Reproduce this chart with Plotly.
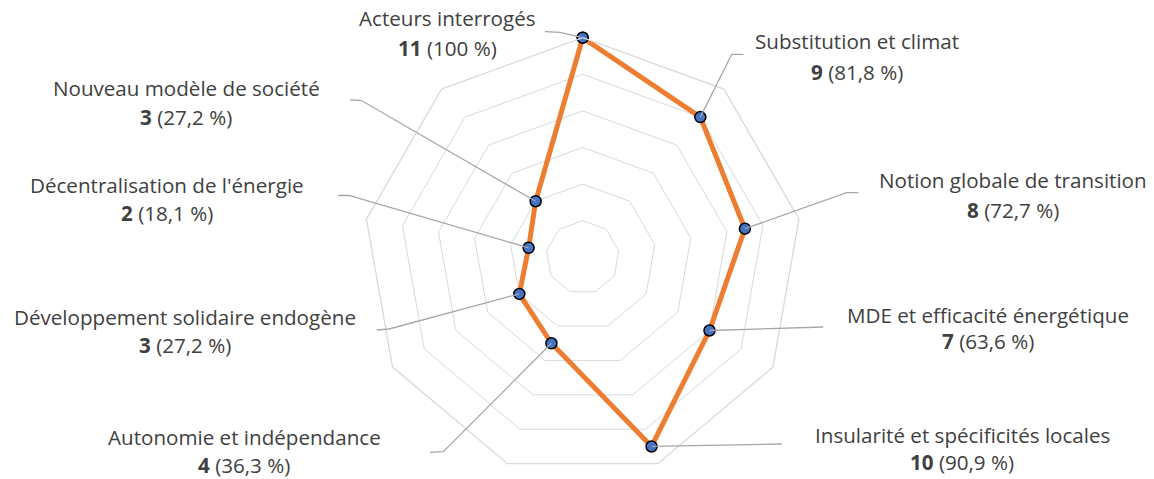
import plotly.graph_objects as go
import math

categories = ["Acteurs interrogés", "Substitution et climat", "Notion globale de transition",
              "MDE et efficacité énergétique", "Insularité et spécificités locales",
              "Autonomie et indépendance", "Développement solidaire endogène",
              "Décentralisation de l'énergie", "Nouveau modèle de société"]
counts = [11, 9, 8, 7, 10, 4, 3, 2, 3]
percents = ["100", "81,8", "72,7", "63,6", "90,9", "36,3", "27,2", "18,1", "27,2"]
ring_values = [1, 3, 5, 7, 9]
r_min, r_max = -1, 11

W, H = 1154, 479
CX, CY, R = 582.7, 257.3, 219.6

FONT = "Open Sans"
FSIZE = 20.6
TXT = "#404040"
LEAD = "#a6a6a6"

fig = go.Figure()
fig.add_trace(go.Scatterpolar(
    r=counts + counts[:1], theta=categories + categories[:1], mode="lines+markers",
    line=dict(color="#ED7D31", width=5),
    marker=dict(size=11, color="#4472C4", line=dict(color="#000000", width=1.5)),
    hoverinfo="skip", showlegend=False,
))

def to_px(i, v):
    ang = math.radians(90 - 40 * i)
    rr = R * (v - r_min) / (r_max - r_min)
    return CX + rr * math.cos(ang), CY - rr * math.sin(ang)

# label layout: (center x, line1 y, line2 y), leader path points after data point
labels = [
    (447, 18, 48, [(560, 32.3), (545, 31.7)]),
    (857, 41, 72, [(731.7, 54.3), (743.3, 54.3)]),
    (1013, 180, 210, [(846.7, 192.7), (858.3, 192.7)]),
    (988, 315, 341, [(823.3, 327)]),
    (962, 435, 462, [(781.7, 444)]),
    (244, 437, 465, [(443.3, 451.7), (430, 452.3)]),
    (185, 317, 345, [(389, 329), (376.7, 330)]),
    (167, 185, 213, [(349, 195.5), (338.3, 195.5)]),
    (186, 88, 117, [(361, 100.3), (350.5, 100)]),
]

ann = []
shapes = []
for i, (lx, y1, y2, pts) in enumerate(labels):
    ann.append(dict(x=lx / W, y=1 - y1 / H, xref="paper", yref="paper", text=categories[i],
                    showarrow=False, xanchor="center", yanchor="middle",
                    font=dict(family=FONT, size=FSIZE, color=TXT)))
    ann.append(dict(x=lx / W, y=1 - y2 / H, xref="paper", yref="paper",
                    text=f"<b>{counts[i]}</b> ({percents[i]} %)",
                    showarrow=False, xanchor="center", yanchor="middle",
                    font=dict(family=FONT, size=FSIZE, color=TXT)))
    sx, sy = to_px(i, counts[i])
    path_pts = [(sx, sy)] + pts
    d = "M " + " L ".join(f"{x / W:.5f},{1 - y / H:.5f}" for x, y in path_pts)
    shapes.append(dict(type="path", path=d, xref="paper", yref="paper",
                       line=dict(color=LEAD, width=1.3), layer="above"))

fig.update_layout(
    width=W, height=H, margin=dict(l=0, r=0, t=0, b=0),
    paper_bgcolor="white", plot_bgcolor="white",
    polar=dict(
        domain=dict(x=[(CX - R) / W, (CX + R) / W], y=[(H - CY - R) / H, (H - CY + R) / H]),
        bgcolor="white", gridshape="linear",
        radialaxis=dict(range=[r_min, r_max], tickvals=ring_values, showticklabels=False,
                        ticks="", showline=False, gridcolor="#d9d9d9", gridwidth=1.3),
        angularaxis=dict(rotation=90, direction="clockwise", showticklabels=False, ticks="",
                         showgrid=False, showline=True, linecolor="#d9d9d9", linewidth=1.3,
                         categoryorder="array", categoryarray=categories),
    ),
    annotations=ann, shapes=shapes, showlegend=False,
)

fig.write_html("out.html", config={"displayModeBar": False},
               post_script="document.body.style.margin='0';document.body.style.overflow='hidden';")
